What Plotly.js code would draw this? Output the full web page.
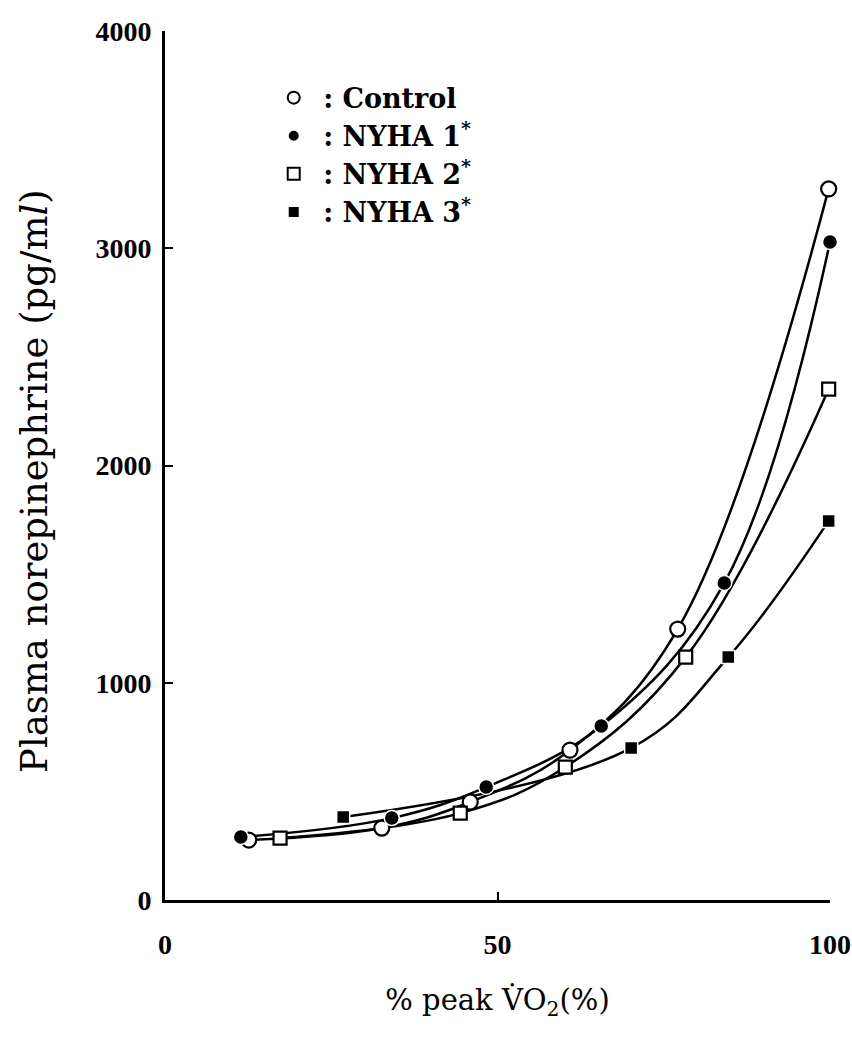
<!DOCTYPE html>
<html>
<head>
<meta charset="utf-8">
<script src="https://cdn.plot.ly/plotly-3.0.1.min.js"></script>
<style>
  html, body { margin: 0; padding: 0; background: #fff; }
  #chart { width: 852px; height: 1049px; }
</style>
</head>
<body>
<div id="chart"></div>
<script>
// % peak VO2 (x) and plasma norepinephrine in pg/ml (y) for each group
const controlX = [12.6, 32.6, 45.9, 60.9, 77.1, 99.8];
const controlY = [276, 331, 451, 690, 1247, 3273];

const nyha1X = [11.4, 34.1, 48.3, 65.6, 84.1, 100];
const nyha1Y = [290, 377, 520, 801, 1459, 3029];

const nyha2X = [17.3, 44.4, 60.2, 78.3, 99.8];
const nyha2Y = [285, 400, 612, 1118, 2352];

const nyha3X = [26.8, 70.1, 84.7, 99.8];
const nyha3Y = [382, 700, 1118, 1745];

const groupNames = ['Control', 'NYHA 1<sup>*</sup>', 'NYHA 2<sup>*</sup>', 'NYHA 3<sup>*</sup>'];

const xTicks = [0, 50, 100];
const yTicks = [0, 1000, 2000, 3000, 4000];

const serif = 'DejaVu Serif, Liberation Serif, serif';
const tickSerif = 'Liberation Serif, Times New Roman, serif';

const groups = [
  { x: controlX, y: controlY, symbol: 'circle', fill: '#fff', size: 15 },
  { x: nyha1X, y: nyha1Y, symbol: 'circle', fill: '#000', size: 15 },
  { x: nyha2X, y: nyha2Y, symbol: 'square', fill: '#fff', size: 13 },
  { x: nyha3X, y: nyha3Y, symbol: 'square', fill: '#000', size: 13 }
];

const traces = [];
// smooth curve for each group
groups.forEach(g => {
  traces.push({
    x: g.x, y: g.y, type: 'scatter', mode: 'lines',
    line: { color: '#000', width: 2.5, shape: 'spline', smoothing: 1.1 },
    showlegend: false, hoverinfo: 'skip', cliponaxis: false
  });
});
// markers, also used for the legend keys
groups.forEach((g, i) => {
  traces.push({
    x: g.x, y: g.y, type: 'scatter', mode: 'markers',
    name: '\u00a0: ' + groupNames[i],
    marker: {
      symbol: g.symbol, size: g.size, color: g.fill,
      line: { color: g.fill === '#fff' ? '#000' : '#fff', width: g.fill === '#fff' ? 2.2 : 1.5 }
    },
    cliponaxis: false
  });
});

const layout = {
  width: 852, height: 1049,
  margin: { l: 165, r: 22, t: 31, b: 149 },
  paper_bgcolor: '#fff', plot_bgcolor: '#fff',
  font: { family: serif, color: '#000', size: 21 },
  showlegend: true,
  legend: {
    x: 0.1635, y: 0.951, xanchor: 'left', yanchor: 'top',
    font: { family: serif, size: 27, color: '#000', weight: 'bold' },
    bgcolor: 'rgba(0,0,0,0)', itemsizing: 'constant', traceorder: 'normal'
  },
  xaxis: {
    range: [0, 100], tickvals: xTicks, ticktext: xTicks.map(String),
    ticks: 'inside', ticklen: 8, tickwidth: 2, tickcolor: '#000',
    showline: true, linewidth: 3, linecolor: '#000',
    showgrid: false, zeroline: false,
    ticklabelstandoff: 17,
    tickfont: { family: tickSerif, size: 28, weight: 'bold' },
    title: { text: '% peak V\u0307O<sub>2</sub>(%)', font: { family: serif, size: 29 }, standoff: 32 }
  },
  yaxis: {
    range: [0, 4000], tickvals: yTicks, ticktext: yTicks.map(String),
    ticks: 'inside', ticklen: 8, tickwidth: 2, tickcolor: '#000',
    showline: true, linewidth: 3, linecolor: '#000',
    showgrid: false, zeroline: false,
    ticklabelstandoff: 5,
    tickfont: { family: tickSerif, size: 28, weight: 'bold' }
  },
  annotations: [{
    // y-axis caption, set slightly below the plot's middle
    text: 'Plasma norepinephrine (pg/m<i>l</i>)',
    xref: 'paper', yref: 'paper',
    x: (35 - 165) / 665, y: (900 - 481) / 869,
    xanchor: 'center', yanchor: 'middle', textangle: -90,
    showarrow: false, font: { family: serif, size: 37, color: '#000' }
  }]
};

Plotly.newPlot('chart', traces, layout, { displayModeBar: false, staticPlot: true });
</script>
</body>
</html>
